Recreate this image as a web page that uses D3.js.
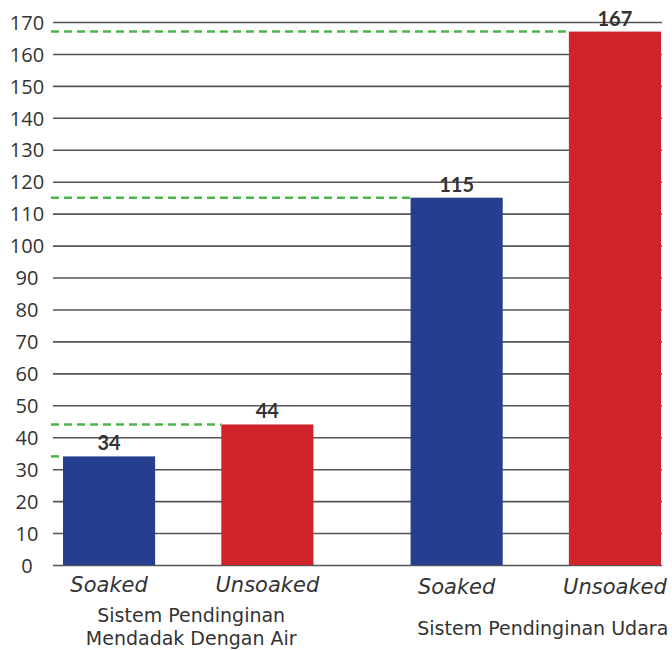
<!DOCTYPE html>
<html>
<head>
<meta charset="UTF-8">
<title>Sistem Pendinginan</title>
<script src="https://cdn.jsdelivr.net/npm/d3@7"></script>
<style>
  body{margin:0;background:#fff;}
  svg{display:block;}
  text{fill:#333;}
</style>
</head>
<body>
<script>
// data
var groups = ["Sistem Pendinginan Mendadak Dengan Air", "Sistem Pendinginan Udara"];
var groupLines = [["Sistem Pendinginan", "Mendadak Dengan Air"], ["Sistem Pendinginan Udara"]];
var kinds = ["Soaked", "Unsoaked"];
var soaked = [34, 115];
var unsoaked = [44, 167];
var yTicks = [0,10,20,30,40,50,60,70,80,90,100,110,120,130,140,150,160,170];

var w = 672, h = 650;
var colors = {Soaked: "#253e8e", Unsoaked: "#d0232b"};

var rows = [];
groups.forEach(function(g, i){
  rows.push({group: g, kind: "Soaked", value: soaked[i]});
  rows.push({group: g, kind: "Unsoaked", value: unsoaked[i]});
});

// scales
var y = d3.scaleLinear().domain([0,170]).range([565,22]);
var x0 = d3.scaleBand().domain(groups).range([63,661]).paddingInner(0.2795).paddingOuter(0);
var x1 = d3.scaleBand().domain(kinds).range([0,x0.bandwidth()]).paddingInner(0.418).paddingOuter(0);

var svg = d3.select("body").append("svg")
  .attr("width", w)
  .attr("height", h);

// y axis + gridlines
var gridLeft = 53, gridRight = 662;
var yAxis = d3.axisLeft(y)
  .tickValues(yTicks)
  .tickSize(-(gridRight - gridLeft))
  .tickPadding(0);

var ax = svg.append("g")
  .attr("class","yaxis")
  .attr("transform","translate(" + gridLeft + ",0)")
  .call(yAxis);
ax.select(".domain").remove();
ax.selectAll(".tick line").attr("stroke","#555").attr("stroke-width",1.6);
ax.selectAll(".tick text")
  .attr("x",-26)
  .attr("dy","0.36em")
  .attr("text-anchor","middle")
  .style("font-family","'Open Sans', sans-serif")
  .style("font-size","20px")
  .style("fill","#333");

// green dashed reference lines at each bar top
svg.append("g").selectAll("line")
  .data(rows)
  .enter().append("line")
  .attr("x1", gridLeft - 2)
  .attr("x2", function(d){ return x0(d.group) + x1(d.kind); })
  .attr("y1", function(d){ return y(d.value); })
  .attr("y2", function(d){ return y(d.value); })
  .attr("stroke","#4cb648")
  .attr("stroke-width",2.5)
  .attr("stroke-dasharray","8,5");

// bars
svg.append("g").selectAll("rect")
  .data(rows)
  .enter().append("rect")
  .attr("x", function(d){ return x0(d.group) + x1(d.kind); })
  .attr("y", function(d){ return y(d.value); })
  .attr("width", x1.bandwidth())
  .attr("height", function(d){ return y(0) - y(d.value); })
  .attr("fill", function(d){ return colors[d.kind]; });

// value labels
svg.append("g").selectAll("text")
  .data(rows)
  .enter().append("text")
  .attr("x", function(d){ return x0(d.group) + x1(d.kind) + x1.bandwidth()/2; })
  .attr("y", function(d){ return y(d.value) - 6; })
  .attr("text-anchor","middle")
  .style("font-family","Lato, sans-serif")
  .style("font-weight","bold")
  .style("font-size","20px")
  .text(function(d){ return d.value; });

// category labels
svg.append("g").selectAll("text")
  .data(rows)
  .enter().append("text")
  .attr("x", function(d){ return x0(d.group) + x1(d.kind) + x1.bandwidth()/2; })
  .attr("y", function(d){ return d.group === groups[0] ? 592 : 594; })
  .attr("text-anchor","middle")
  .style("font-family","'DejaVu Sans', sans-serif")
  .style("font-style","oblique")
  .style("font-size","21px")
  .text(function(d){ return d.kind; });

// group labels
var gl = svg.append("g").selectAll("text")
  .data(groups)
  .enter().append("text")
  .attr("y", function(d, i){ return groupLines[i].length > 1 ? 622 : 635; })
  .attr("text-anchor","middle")
  .style("font-family","'DejaVu Sans', sans-serif")
  .style("font-size","19px");
gl.each(function(d, i){
  var t = d3.select(this);
  groupLines[i].forEach(function(line, j){
    t.append("tspan")
      .attr("x", x0(d) + x0.bandwidth()/2 + (i ? 7 : 3))
      .attr("dy", j ? 23 : 0)
      .text(line);
  });
});
</script>
</body>
</html>
